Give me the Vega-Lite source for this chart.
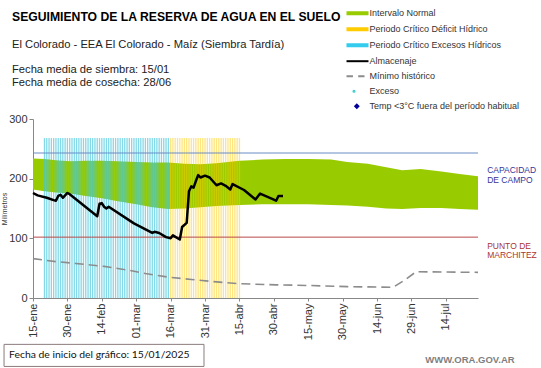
{
  "$schema": "https://vega.github.io/schema/vega-lite/v6.json",
  "width": 445,
  "height": 179,
  "autosize": "none",
  "padding": {"left": 33, "top": 119, "right": 63, "bottom": 70},
  "background": "white",
  "config": {"view": {"stroke": null}},
  "title": {
    "text": "SEGUIMIENTO DE LA RESERVA DE AGUA EN EL SUELO",
    "subtitle": ["El Colorado - EEA El Colorado - Maíz  (Siembra Tardía)", "\u200b", "Fecha media de siembra: 15/01", "Fecha media de cosecha: 28/06"],
    "anchor": "start", "frame": "group", "dx": -21, "offset": -82.8,
    "font": "Liberation Sans", "fontSize": 12.2, "fontWeight": "bold", "color": "#000000",
    "subtitleFont": "Liberation Sans", "subtitleFontSize": 11.2, "subtitleColor": "#222222",
    "subtitlePadding": 16, "subtitleLineHeight": 12.7
  },
  "datasets": {
    "banda": [
      {"date": "2025-01-15", "hi": 234, "lo": 182},
      {"date": "2025-01-20", "hi": 233, "lo": 179},
      {"date": "2025-01-25", "hi": 231, "lo": 177},
      {"date": "2025-01-31", "hi": 229, "lo": 175},
      {"date": "2025-02-07", "hi": 230, "lo": 171},
      {"date": "2025-02-14", "hi": 230, "lo": 167},
      {"date": "2025-02-21", "hi": 229, "lo": 162},
      {"date": "2025-03-01", "hi": 228, "lo": 157},
      {"date": "2025-03-08", "hi": 227, "lo": 152},
      {"date": "2025-03-15", "hi": 227, "lo": 149},
      {"date": "2025-03-22", "hi": 225, "lo": 150},
      {"date": "2025-03-29", "hi": 224, "lo": 152},
      {"date": "2025-04-05", "hi": 226, "lo": 154},
      {"date": "2025-04-15", "hi": 230, "lo": 156},
      {"date": "2025-04-25", "hi": 232, "lo": 157},
      {"date": "2025-05-05", "hi": 233, "lo": 157},
      {"date": "2025-05-15", "hi": 233, "lo": 157},
      {"date": "2025-05-25", "hi": 232, "lo": 156},
      {"date": "2025-06-01", "hi": 228, "lo": 155},
      {"date": "2025-06-10", "hi": 225, "lo": 153},
      {"date": "2025-06-18", "hi": 219, "lo": 150},
      {"date": "2025-06-25", "hi": 214, "lo": 149},
      {"date": "2025-07-03", "hi": 216, "lo": 151},
      {"date": "2025-07-12", "hi": 212, "lo": 151},
      {"date": "2025-07-20", "hi": 208, "lo": 149},
      {"date": "2025-07-28", "hi": 204, "lo": 148}
    ],
    "franjas": [
      {"date": "2025-01-20", "periodo": "Excesos"}, {"date": "2025-01-21", "periodo": "Excesos"}, {"date": "2025-01-22", "periodo": "Excesos"}, {"date": "2025-01-23", "periodo": "Excesos"}, {"date": "2025-01-24", "periodo": "Excesos"}, {"date": "2025-01-25", "periodo": "Excesos"}, {"date": "2025-01-26", "periodo": "Excesos"}, {"date": "2025-01-27", "periodo": "Excesos"}, {"date": "2025-01-28", "periodo": "Excesos"}, {"date": "2025-01-29", "periodo": "Excesos"}, {"date": "2025-01-30", "periodo": "Excesos"}, {"date": "2025-01-31", "periodo": "Excesos"},
      {"date": "2025-02-01", "periodo": "Excesos"}, {"date": "2025-02-02", "periodo": "Excesos"}, {"date": "2025-02-03", "periodo": "Excesos"}, {"date": "2025-02-04", "periodo": "Excesos"}, {"date": "2025-02-05", "periodo": "Excesos"}, {"date": "2025-02-06", "periodo": "Excesos"}, {"date": "2025-02-07", "periodo": "Excesos"}, {"date": "2025-02-08", "periodo": "Excesos"}, {"date": "2025-02-09", "periodo": "Excesos"}, {"date": "2025-02-10", "periodo": "Excesos"}, {"date": "2025-02-11", "periodo": "Excesos"}, {"date": "2025-02-12", "periodo": "Excesos"}, {"date": "2025-02-13", "periodo": "Excesos"}, {"date": "2025-02-14", "periodo": "Excesos"}, {"date": "2025-02-15", "periodo": "Excesos"}, {"date": "2025-02-16", "periodo": "Excesos"}, {"date": "2025-02-17", "periodo": "Excesos"}, {"date": "2025-02-18", "periodo": "Excesos"}, {"date": "2025-02-19", "periodo": "Excesos"}, {"date": "2025-02-20", "periodo": "Excesos"}, {"date": "2025-02-21", "periodo": "Excesos"}, {"date": "2025-02-22", "periodo": "Excesos"}, {"date": "2025-02-23", "periodo": "Excesos"}, {"date": "2025-02-24", "periodo": "Excesos"}, {"date": "2025-02-25", "periodo": "Excesos"}, {"date": "2025-02-26", "periodo": "Excesos"}, {"date": "2025-02-27", "periodo": "Excesos"}, {"date": "2025-02-28", "periodo": "Excesos"},
      {"date": "2025-03-01", "periodo": "Excesos"}, {"date": "2025-03-02", "periodo": "Excesos"}, {"date": "2025-03-03", "periodo": "Excesos"}, {"date": "2025-03-04", "periodo": "Excesos"}, {"date": "2025-03-05", "periodo": "Excesos"}, {"date": "2025-03-06", "periodo": "Excesos"}, {"date": "2025-03-07", "periodo": "Excesos"}, {"date": "2025-03-08", "periodo": "Excesos"}, {"date": "2025-03-09", "periodo": "Excesos"}, {"date": "2025-03-10", "periodo": "Excesos"}, {"date": "2025-03-11", "periodo": "Excesos"}, {"date": "2025-03-12", "periodo": "Excesos"}, {"date": "2025-03-13", "periodo": "Excesos"}, {"date": "2025-03-14", "periodo": "Excesos"}, {"date": "2025-03-15", "periodo": "Excesos"},
      {"date": "2025-03-16", "periodo": "Deficit"}, {"date": "2025-03-17", "periodo": "Deficit"}, {"date": "2025-03-18", "periodo": "Deficit"}, {"date": "2025-03-19", "periodo": "Deficit"}, {"date": "2025-03-20", "periodo": "Deficit"}, {"date": "2025-03-21", "periodo": "Deficit"}, {"date": "2025-03-22", "periodo": "Deficit"}, {"date": "2025-03-23", "periodo": "Deficit"}, {"date": "2025-03-24", "periodo": "Deficit"}, {"date": "2025-03-25", "periodo": "Deficit"}, {"date": "2025-03-26", "periodo": "Deficit"}, {"date": "2025-03-27", "periodo": "Deficit"}, {"date": "2025-03-28", "periodo": "Deficit"}, {"date": "2025-03-29", "periodo": "Deficit"}, {"date": "2025-03-30", "periodo": "Deficit"}, {"date": "2025-03-31", "periodo": "Deficit"},
      {"date": "2025-04-01", "periodo": "Deficit"}, {"date": "2025-04-02", "periodo": "Deficit"}, {"date": "2025-04-03", "periodo": "Deficit"}, {"date": "2025-04-04", "periodo": "Deficit"}, {"date": "2025-04-05", "periodo": "Deficit"}, {"date": "2025-04-06", "periodo": "Deficit"}, {"date": "2025-04-07", "periodo": "Deficit"}, {"date": "2025-04-08", "periodo": "Deficit"}, {"date": "2025-04-09", "periodo": "Deficit"}, {"date": "2025-04-10", "periodo": "Deficit"}, {"date": "2025-04-11", "periodo": "Deficit"}, {"date": "2025-04-12", "periodo": "Deficit"}, {"date": "2025-04-13", "periodo": "Deficit"}, {"date": "2025-04-14", "periodo": "Deficit"}, {"date": "2025-04-15", "periodo": "Deficit"}
    ],
    "almacenaje": [
      {"date": "2025-01-15", "mm": 176}, {"date": "2025-01-17", "mm": 172}, {"date": "2025-01-21", "mm": 168}, {"date": "2025-01-24", "mm": 164}, {"date": "2025-01-25", "mm": 163}, {"date": "2025-01-26", "mm": 171}, {"date": "2025-01-27", "mm": 173}, {"date": "2025-01-28", "mm": 168}, {"date": "2025-01-29", "mm": 172}, {"date": "2025-01-30", "mm": 176}, {"date": "2025-01-31", "mm": 174},
      {"date": "2025-02-12", "mm": 137}, {"date": "2025-02-13", "mm": 158}, {"date": "2025-02-14", "mm": 159}, {"date": "2025-02-15", "mm": 153}, {"date": "2025-02-16", "mm": 150}, {"date": "2025-02-17", "mm": 153}, {"date": "2025-02-28", "mm": 125},
      {"date": "2025-03-08", "mm": 109}, {"date": "2025-03-09", "mm": 111}, {"date": "2025-03-11", "mm": 109}, {"date": "2025-03-14", "mm": 102}, {"date": "2025-03-16", "mm": 100}, {"date": "2025-03-17", "mm": 105}, {"date": "2025-03-20", "mm": 98}, {"date": "2025-03-21", "mm": 119}, {"date": "2025-03-23", "mm": 126}, {"date": "2025-03-24", "mm": 179}, {"date": "2025-03-25", "mm": 187}, {"date": "2025-03-26", "mm": 185}, {"date": "2025-03-27", "mm": 196}, {"date": "2025-03-28", "mm": 206}, {"date": "2025-03-29", "mm": 202}, {"date": "2025-03-31", "mm": 205},
      {"date": "2025-04-02", "mm": 202}, {"date": "2025-04-05", "mm": 189}, {"date": "2025-04-07", "mm": 192}, {"date": "2025-04-09", "mm": 188}, {"date": "2025-04-11", "mm": 182}, {"date": "2025-04-12", "mm": 191}, {"date": "2025-04-17", "mm": 181}, {"date": "2025-04-22", "mm": 165}, {"date": "2025-04-24", "mm": 175}, {"date": "2025-04-30", "mm": 165},
      {"date": "2025-05-01", "mm": 163}, {"date": "2025-05-02", "mm": 171}, {"date": "2025-05-04", "mm": 171}
    ],
    "minimo": [
      {"date": "2025-01-15", "mm": 66}, {"date": "2025-01-25", "mm": 61}, {"date": "2025-02-05", "mm": 57}, {"date": "2025-02-15", "mm": 53}, {"date": "2025-02-25", "mm": 47}, {"date": "2025-03-05", "mm": 41}, {"date": "2025-03-15", "mm": 35}, {"date": "2025-03-25", "mm": 31}, {"date": "2025-04-05", "mm": 27}, {"date": "2025-04-15", "mm": 24}, {"date": "2025-05-01", "mm": 22}, {"date": "2025-05-15", "mm": 21}, {"date": "2025-06-01", "mm": 19}, {"date": "2025-06-21", "mm": 18}, {"date": "2025-06-26", "mm": 30}, {"date": "2025-07-01", "mm": 44}, {"date": "2025-07-28", "mm": 43}
    ],
    "leyenda": [
      {"serie": "Intervalo Normal"}, {"serie": "Periodo Crítico Déficit Hídrico"}, {"serie": "Periodo Crítico Excesos Hídricos"}, {"serie": "Almacenaje"}, {"serie": "Mínimo histórico"}, {"serie": "Exceso"}, {"serie": "Temp <3°C fuera del período habitual"}
    ],
    "uno": [{}]
  },
  "layer": [
    {
      "data": {"name": "banda"},
      "mark": {"type": "area", "color": "#99CC00", "opacity": 1},
      "encoding": {
        "x": {
          "field": "date", "type": "temporal",
          "scale": {"type": "utc", "domain": [{"year": 2025, "month": 1, "date": 15, "utc": true}, {"year": 2025, "month": 7, "date": 28, "utc": true}]},
          "axis": {
            "title": null, "grid": false, "tickCount": 40,
            "values": [
              {"year": 2025, "month": 1, "date": 15, "utc": true}, {"year": 2025, "month": 1, "date": 30, "utc": true}, {"year": 2025, "month": 2, "date": 14, "utc": true}, {"year": 2025, "month": 3, "date": 1, "utc": true}, {"year": 2025, "month": 3, "date": 16, "utc": true}, {"year": 2025, "month": 3, "date": 31, "utc": true}, {"year": 2025, "month": 4, "date": 15, "utc": true}, {"year": 2025, "month": 4, "date": 30, "utc": true}, {"year": 2025, "month": 5, "date": 15, "utc": true}, {"year": 2025, "month": 5, "date": 30, "utc": true}, {"year": 2025, "month": 6, "date": 14, "utc": true}, {"year": 2025, "month": 6, "date": 29, "utc": true}, {"year": 2025, "month": 7, "date": 14, "utc": true}
            ],
            "labelExpr": "utcFormat(datum.value, '%d') + '-' + ['ene','feb','mar','abr','may','jun','jul','ago','sep','oct','nov','dic'][utcmonth(datum.value)]",
            "labelAngle": 270, "labelFont": "Liberation Sans", "labelFontSize": 11, "labelColor": "#333333", "labelPadding": 2,
            "tickSize": 3, "tickColor": "#888888", "domainColor": "#888888", "labelOverlap": false, "labelFlush": false
          }
        },
        "y": {
          "field": "hi", "type": "quantitative",
          "scale": {"domain": [0, 300], "nice": false},
          "axis": {
            "title": "Milímetros", "titleFont": "Liberation Sans", "titleFontSize": 7, "titleFontWeight": "normal", "titleColor": "#333333", "titlePadding": 1,
            "values": [0, 50, 100, 150, 200, 250, 300], "grid": false,
            "labelFont": "Liberation Sans", "labelFontSize": 11, "labelColor": "#333333", "labelPadding": 2,
            "tickSize": 4, "tickColor": "#888888", "domainColor": "#888888"
          }
        },
        "y2": {"field": "lo"}
      }
    },
    {
      "data": {"name": "franjas"},
      "mark": {"type": "rule", "strokeWidth": 1.3},
      "encoding": {
        "x": {"field": "date", "type": "temporal"},
        "y": {"datum": 0},
        "y2": {"datum": 268},
        "color": {"field": "periodo", "type": "nominal", "scale": {"domain": ["Excesos", "Deficit"], "range": ["#40C4DC", "#FFCC00"]}, "legend": null},
        "opacity": {"field": "periodo", "type": "nominal", "scale": {"domain": ["Excesos", "Deficit"], "range": [0.65, 0.5]}, "legend": null}
      }
    },
    {
      "data": {"name": "uno"},
      "mark": {"type": "rule", "color": "#6A8CC4", "strokeWidth": 1},
      "encoding": {"y": {"datum": 243}}
    },
    {
      "data": {"name": "uno"},
      "mark": {"type": "rule", "color": "#B84848", "strokeWidth": 1},
      "encoding": {"y": {"datum": 102}}
    },
    {
      "data": {"name": "minimo"},
      "mark": {"type": "line", "color": "#8C8C8C", "strokeWidth": 1.6, "strokeDash": [9, 5]},
      "encoding": {"x": {"field": "date", "type": "temporal"}, "y": {"field": "mm", "type": "quantitative"}}
    },
    {
      "data": {"name": "almacenaje"},
      "mark": {"type": "line", "color": "#000000", "strokeWidth": 2.5, "strokeJoin": "round"},
      "encoding": {"x": {"field": "date", "type": "temporal"}, "y": {"field": "mm", "type": "quantitative"}}
    },
    {
      "data": {"name": "uno"},
      "mark": {"type": "text", "text": "CAPACIDAD\nDE CAMPO", "lineBreak": "\n", "align": "left", "baseline": "middle", "font": "Liberation Sans", "fontSize": 8.5, "lineHeight": 9.3, "color": "#333399"},
      "encoding": {"x": {"datum": {"year": 2025, "month": 8, "date": 1, "utc": true}}, "y": {"datum": 214}}
    },
    {
      "data": {"name": "uno"},
      "mark": {"type": "text", "text": "PUNTO  DE\nMARCHITEZ", "lineBreak": "\n", "align": "left", "baseline": "middle", "font": "Liberation Sans", "fontSize": 8.5, "lineHeight": 9.3, "color": "#AA3333"},
      "encoding": {"x": {"datum": {"year": 2025, "month": 8, "date": 1, "utc": true}}, "y": {"datum": 87.5}}
    },
    {
      "data": {"name": "uno"},
      "mark": {"type": "rect", "fill": "#FFFFFF", "stroke": "#8C7B7B", "strokeWidth": 1},
      "encoding": {
        "x": {"datum": {"year": 2025, "month": 1, "date": 2, "hours": 9, "utc": true}},
        "x2": {"datum": {"year": 2025, "month": 3, "date": 30, "hours": 13, "utc": true}},
        "y": {"datum": -77.7},
        "y2": {"datum": -114.7}
      }
    },
    {
      "data": {"name": "uno"},
      "mark": {"type": "text", "text": "Fecha de inicio del gráfico:  15/01/2025", "align": "left", "baseline": "middle", "font": "Lato", "fontSize": 10.4, "color": "#111111"},
      "encoding": {"x": {"datum": {"year": 2025, "month": 1, "date": 4, "hours": 13, "utc": true}}, "y": {"datum": -96}}
    },
    {
      "data": {"name": "uno"},
      "mark": {"type": "text", "text": "WWW.ORA.GOV.AR", "align": "right", "baseline": "middle", "font": "Liberation Sans", "fontSize": 9.5, "fontWeight": "bold", "color": "#7F7F7F"},
      "encoding": {"x": {"datum": {"year": 2025, "month": 8, "date": 13, "utc": true}}, "y": {"datum": -104.6}}
    },
    {
      "data": {"name": "leyenda"},
      "mark": {"type": "point", "opacity": 0, "filled": true},
      "encoding": {
        "shape": {
          "field": "serie", "type": "nominal",
          "scale": {
            "domain": ["Intervalo Normal", "Periodo Crítico Déficit Hídrico", "Periodo Crítico Excesos Hídricos", "Almacenaje", "Mínimo histórico", "Exceso", "Temp <3°C fuera del período habitual"],
            "range": [
              "M-1.43,-0.143H1.43V0.143H-1.43Z",
              "M-1.43,-0.143H1.43V0.143H-1.43Z",
              "M-1.43,-0.143H1.43V0.143H-1.43Z",
              "M-1.57,0H1.57",
              "M-1.57,0H-0.65M0.1,0H1.0",
              "M-0.42,0A0.08,0.08,0,1,1,-0.58,0A0.08,0.08,0,1,1,-0.42,0Z",
              "M-0.1,-0.22L0.12,0L-0.1,0.22L-0.32,0Z"
            ]
          },
          "legend": {"orient": "none", "legendX": 316.5, "legendY": -113.8, "title": null, "padding": 0, "rowPadding": 2, "symbolSize": 196, "symbolStrokeWidth": 2, "symbolOpacity": 1, "labelOffset": 4, "labelFont": "Liberation Sans", "labelFontSize": 9, "labelColor": "#333333", "labelLimit": 300}
        },
        "fill": {
          "field": "serie", "type": "nominal",
          "scale": {
            "domain": ["Intervalo Normal", "Periodo Crítico Déficit Hídrico", "Periodo Crítico Excesos Hídricos", "Almacenaje", "Mínimo histórico", "Exceso", "Temp <3°C fuera del período habitual"],
            "range": ["#99CC00", "#FFCC00", "#33CCEE", "#000000", "#8C8C8C", "#33CCCC", "#000099"]
          },
          "legend": {"orient": "none", "legendX": 316.5, "legendY": -113.8, "title": null, "padding": 0, "rowPadding": 2, "symbolSize": 196, "symbolStrokeWidth": 2, "symbolOpacity": 1, "labelOffset": 4, "labelFont": "Liberation Sans", "labelFontSize": 9, "labelColor": "#333333", "labelLimit": 300}
        },
        "stroke": {
          "field": "serie", "type": "nominal",
          "scale": {
            "domain": ["Intervalo Normal", "Periodo Crítico Déficit Hídrico", "Periodo Crítico Excesos Hídricos", "Almacenaje", "Mínimo histórico", "Exceso", "Temp <3°C fuera del período habitual"],
            "range": ["#99CC00", "#FFCC00", "#33CCEE", "#000000", "#8C8C8C", "#33CCCC", "#000099"]
          },
          "legend": {"orient": "none", "legendX": 316.5, "legendY": -113.8, "title": null, "padding": 0, "rowPadding": 2, "symbolSize": 196, "symbolStrokeWidth": 2, "symbolOpacity": 1, "labelOffset": 4, "labelFont": "Liberation Sans", "labelFontSize": 9, "labelColor": "#333333", "labelLimit": 300}
        }
      }
    }
  ]
}
